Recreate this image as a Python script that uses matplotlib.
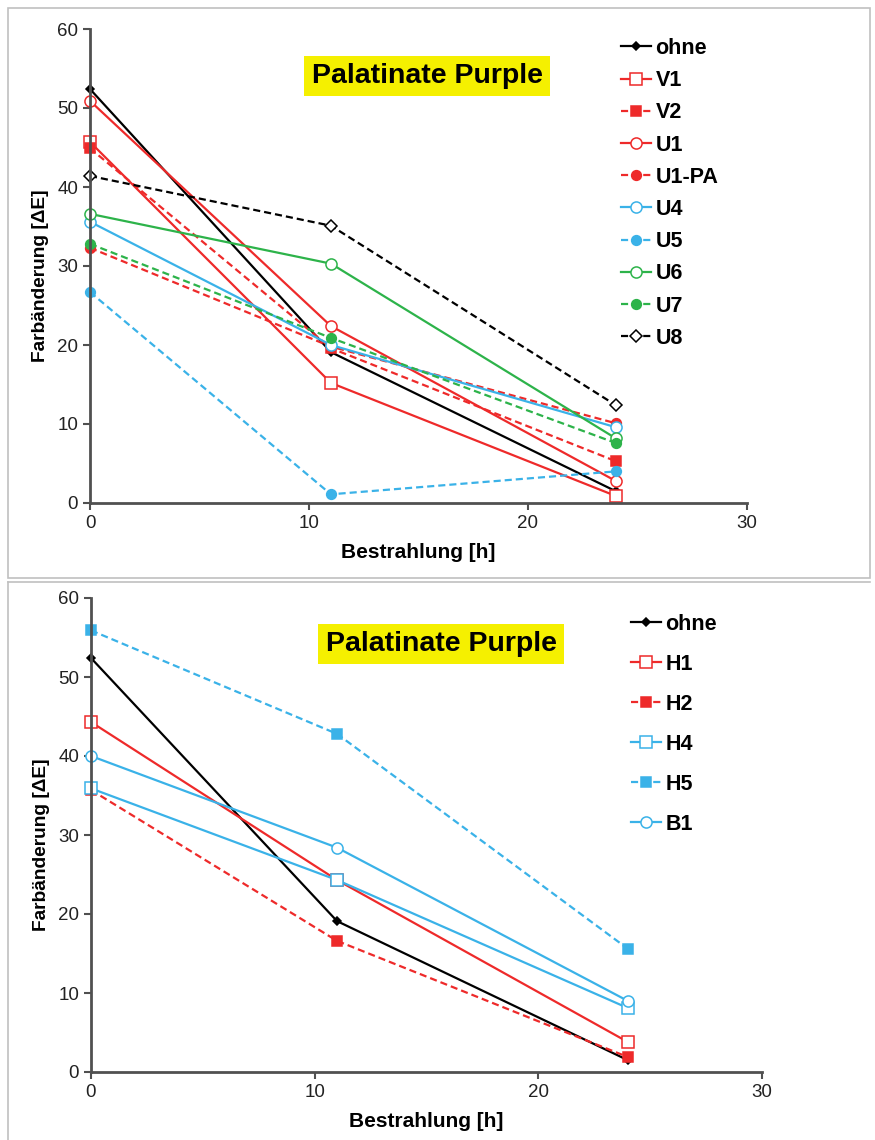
import matplotlib.pyplot as plt
from matplotlib.patches import Rectangle
from matplotlib.lines import Line2D

# Bestrahlungszeiten [h]
zeit = [0, 11, 24]

# oberes Diagramm: Farbänderung [dE]
ohne = [52.4, 19.1, 1.5]
v1 = [45.7, 15.2, 0.9]
v2 = [44.9, 19.6, 5.3]
u1 = [50.9, 22.4, 2.8]
u1_pa = [32.3, 19.8, 10.1]
u4 = [35.6, 20.0, 9.6]
u5 = [26.7, 1.1, 4.0]
u6 = [36.6, 30.3, 8.2]
u7 = [32.8, 20.9, 7.6]
u8 = [41.4, 35.1, 12.4]

# unteres Diagramm
h1 = [44.3, 24.3, 3.8]
h2 = [35.7, 16.6, 1.9]
h4 = [35.9, 24.3, 8.1]
h5 = [55.9, 42.8, 15.6]
b1 = [40.0, 28.4, 9.0]

titel = "Palatinate Purple"
xlabel = "Bestrahlung [h]"
ylabel = "Farbänderung [\u0394E]"

rot = '#ee2a2a'
blau = '#3ab2e8'
gruen = '#2db34a'
dash = (0, (3.2, 1.8))

plt.rcParams['font.family'] = ['Liberation Sans', 'DejaVu Sans']

fig = plt.figure(figsize=(8.75, 11.4), dpi=100)

# Rahmen der beiden Diagramme
fig.patches.append(Rectangle((8/875, 1-578/1140), 862/875, 570/1140, transform=fig.transFigure,
                             fill=False, edgecolor='#c0c0c0', lw=1.2))
fig.lines.append(Line2D([8/875, 8/875], [0, 1-582/1140], transform=fig.transFigure,
                        color='#c0c0c0', lw=1.2))
fig.lines.append(Line2D([8/875, 870/875], [1-582/1140, 1-582/1140], transform=fig.transFigure,
                        color='#c0c0c0', lw=1.2))

ax1 = fig.add_axes([90/875, 1-503/1140, 657/875, 474/1140])
ax2 = fig.add_axes([91/875, 1-1072/1140, 671/875, 474/1140])


def serie(ax, y, label, color, marker, ls='-', fill=True, ms=7):
    ax.plot(zeit, y, color=color, ls=ls, lw=1.6, marker=marker, ms=ms,
            markerfacecolor=color if fill else 'white', markeredgecolor=color,
            markeredgewidth=1.1, label=label, clip_on=False)


serie(ax1, ohne, 'ohne', 'black', 'D', ms=4.5)
serie(ax1, v1, 'V1', rot, 's', fill=False, ms=8)
serie(ax1, v2, 'V2', rot, 's', ls=dash, ms=7)
serie(ax1, u1, 'U1', rot, 'o', fill=False, ms=8)
serie(ax1, u1_pa, 'U1-PA', rot, 'o', ls=dash, ms=7)
serie(ax1, u4, 'U4', blau, 'o', fill=False, ms=8)
serie(ax1, u5, 'U5', blau, 'o', ls=dash, ms=7)
serie(ax1, u6, 'U6', gruen, 'o', fill=False, ms=8)
serie(ax1, u7, 'U7', gruen, 'o', ls=dash, ms=7)
serie(ax1, u8, 'U8', 'black', 'D', ls=dash, fill=False, ms=6)

serie(ax2, ohne, 'ohne', 'black', 'D', ms=4.5)
serie(ax2, h1, 'H1', rot, 's', fill=False, ms=8)
serie(ax2, h2, 'H2', rot, 's', ls=dash, ms=7)
serie(ax2, h4, 'H4', blau, 's', fill=False, ms=8)
serie(ax2, h5, 'H5', blau, 's', ls=dash, ms=7)
serie(ax2, b1, 'B1', blau, 'o', fill=False, ms=8)

for ax in (ax1, ax2):
    ax.set_xlim(0, 30)
    ax.set_ylim(0, 60)
    ax.set_xticks([0, 10, 20, 30])
    ax.set_yticks([0, 10, 20, 30, 40, 50, 60])
    for s in ('top', 'right'):
        ax.spines[s].set_visible(False)
    for s in ('left', 'bottom'):
        ax.spines[s].set_color('#505050')
        ax.spines[s].set_linewidth(2)
    ax.tick_params(direction='out', length=5, width=1.5, color='#505050', labelsize=13.5,
                   labelcolor='#222222')
    ax.set_xlabel(xlabel, fontsize=15, fontweight='bold', labelpad=8)
    ax.set_ylabel(ylabel, fontsize=13.8, fontweight='bold', labelpad=6)
    ax.yaxis.label.set_y(0.48)

fig.text(427/875, 1-76/1140, titel, ha='center', va='center', fontsize=20.5, fontweight='bold',
         bbox=dict(boxstyle='square,pad=0.25', facecolor='#f5f000', edgecolor='none'))
fig.text(441/875, 1-644/1140, titel, ha='center', va='center', fontsize=20.5, fontweight='bold',
         bbox=dict(boxstyle='square,pad=0.25', facecolor='#f5f000', edgecolor='none'))

ax1.legend(loc='upper left', bbox_to_anchor=(621/875, 1-38/1140), bbox_transform=fig.transFigure,
           frameon=False, borderpad=0, borderaxespad=0, labelspacing=0.52, handlelength=1.4,
           handletextpad=0.2, numpoints=1, prop={'weight': 'bold', 'size': 15.5})
ax2.legend(loc='upper left', bbox_to_anchor=(631/875, 1-614/1140), bbox_transform=fig.transFigure,
           frameon=False, borderpad=0, borderaxespad=0, labelspacing=0.88, handlelength=1.4,
           handletextpad=0.2, numpoints=1, prop={'weight': 'bold', 'size': 15.5})

fig.savefig('out.png', dpi=100, facecolor='white')
